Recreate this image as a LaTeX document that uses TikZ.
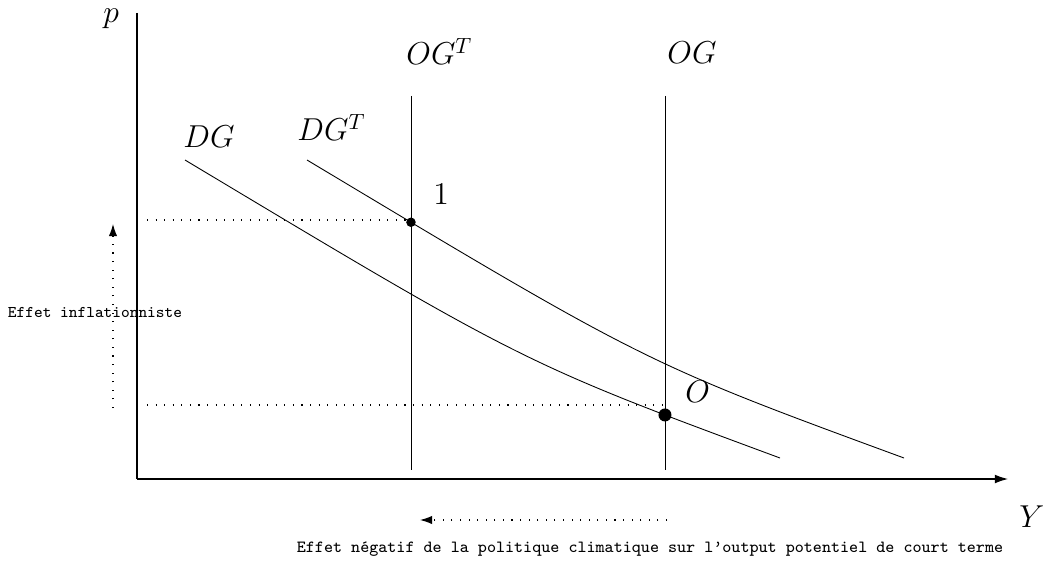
\documentclass[tikz,border=0pt]{standalone}
\usetikzlibrary{arrows.meta,intersections}
\begin{document}
\begin{tikzpicture}[x=0.4545pt,y=-0.4545pt,
  axis/.style={line width=0.5pt},
  vline/.style={line width=0.4pt},
  curve/.style={line width=0.4pt},
  dots/.style={line width=0.5pt,dash pattern=on 0.5pt off 3.4pt},
  arr/.style={-{Latex[length=5.5pt,width=3.8pt]}},
  mlab/.style={font=\fontsize{14.4}{16}\selectfont,inner sep=0pt,anchor=base west},
  ttlab/.style={font=\ttfamily,inner sep=0pt},
  pt/.style={circle,fill=black,inner sep=0pt}]
\useasboundingbox (0,0) rectangle (1044,565);
% axes
\coordinate (orig) at (137,479);
\coordinate (ytop) at (137,13);
\coordinate (xend) at (1008,479);
\draw[axis] (ytop) -- (orig);
\draw[axis,-{Latex[length=6pt,width=4pt]}] (orig) -- (xend);
\node[mlab] (p) at (103,23) {$p$};
\node[mlab] (Y) at (1019,527) {$Y$};
% vertical supply lines
\coordinate (ogtT) at (411,96);
\coordinate (ogtB) at (411,470);
\coordinate (ogT) at (665,96);
\coordinate (ogB) at (665,470);
\draw[vline,name path=ogt] (ogtT) -- (ogtB);
\draw[vline,name path=og] (ogT) -- (ogB);
\node[mlab] (OGTlab) at (406,65) {$OG^T$};
\node[mlab] (OGlab) at (667,64) {$OG$};
% demand curves
\draw[curve,name path=dg] (185,160) .. controls (523.5,363) .. (780,458);
\draw[curve,name path=dgt] (307,160) .. controls (645.5,363) .. (904,458);
\node[mlab] (DGlab) at (183,148) {$DG$};
\node[mlab] (DGTlab) at (297,141) {$DG^T$};
% equilibrium points
\path[name intersections={of=ogt and dgt,by=I1}];
\path[name intersections={of=og and dg,by=I0}];
\node[pt,minimum size=9.5pt/2.2] (one) at (I1) {};
\node[pt,minimum size=13pt/2.2] (O) at (I0) {};
\node[mlab] (onelab) at (433,205) {$1$};
\node[mlab] (Olab) at (685,402) {$O$};
% dotted guides
\coordinate (h1) at (147,220);
\coordinate (h1e) at (411,220);
\coordinate (h0) at (147,405);
\coordinate (h0e) at (665,405);
\draw[dots] (h1) -- (h1e);
\draw[dots] (h0) -- (h0e);
% effects
\coordinate (vs) at (113,408);
\coordinate (ve) at (113,224);
\draw[dots,arr] (vs) -- (ve);
\node[ttlab,font=\fontsize{7.45}{9}\selectfont\ttfamily] (infl) at (95,312) {Effet inflationniste};
\coordinate (hs) at (667,520);
\coordinate (he) at (420,520);
\draw[dots,arr] (hs) -- (he);
\node[ttlab,font=\fontsize{7.75}{9}\selectfont\ttfamily] (neg) at (650,549) {Effet négatif de la politique climatique sur l’output potentiel de court terme};
\end{tikzpicture}
\end{document}
